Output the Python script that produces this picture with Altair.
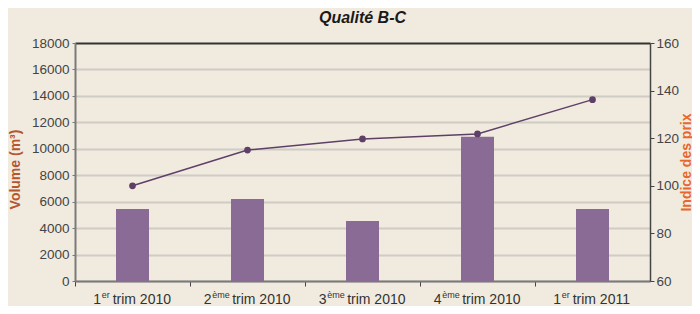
import altair as alt
import pandas as pd

quarters = ["1er trim 2010", "2ème trim 2010", "3ème trim 2010", "4ème trim 2010", "1er trim 2011"]
ordinals = ["1", "2", "3", "4", "1"]
sups = ["er", "ème", "ème", "ème", "er"]
rests = ["trim 2010", "trim 2010", "trim 2010", "trim 2010", "trim 2011"]
volume = [5450, 6200, 4540, 10910, 5450]
prix = [100, 115, 119.7, 121.8, 136.2]

df = pd.DataFrame({"q": quarters, "ord": ordinals, "sup": sups, "rest": rests,
                   "volume": volume, "prix": prix})

W, H = 575, 238
HALF_BAND = W / len(quarters) / 2
FONT = "Liberation Sans"
BAR = "#8A6B96"
LINE = "#5E3F68"


def xenc():
    return alt.X("q:N", sort=quarters,
                 scale=alt.Scale(paddingInner=0, paddingOuter=0),
                 axis=alt.Axis(title=None, labels=False, ticks=True, tickSize=5,
                               tickColor="#444", tickWidth=1, bandPosition=0,
                               domainColor="#7a7a7a", domainWidth=2, grid=False))


base = alt.Chart(df)

bars = base.mark_bar(size=33, color=BAR).encode(
    x=xenc(),
    y=alt.Y("volume:Q", scale=alt.Scale(domain=[0, 18000], nice=False),
            axis=alt.Axis(title="Volume (m³)", values=list(range(0, 18001, 2000)),
                          format="d",
                          titleColor="#B5562F", titleFont=FONT, titleFontSize=14,
                          titleFontWeight="bold", titleAngle=270, titleX=-60, titleY=126,
                          titleAlign="center", titleBaseline="middle",
                          labelFont=FONT, labelFontSize=13.5, labelColor="#444",
                          labelPadding=3, tickSize=3, tickColor="#7a7a7a",
                          domainColor="#7a7a7a", domainWidth=2,
                          grid=True, gridWidth=1.8,
                          gridColor=alt.condition("datum.value == 18000",
                                                  alt.value("#333333"),
                                                  alt.value("#cfccc6"))))
)

yr = alt.Y("prix:Q", scale=alt.Scale(domain=[60, 160], nice=False),
           axis=alt.Axis(title="Indice des prix", orient="right",
                         values=list(range(60, 161, 20)), format="d",
                         titleColor="#E8672A", titleFont=FONT, titleFontSize=14,
                         titleFontWeight="bold", titleAngle=270, titleX=36, titleY=119,
                         titleAlign="center", titleBaseline="middle",
                         labelFont=FONT, labelFontSize=13.5, labelColor="#444",
                         labelPadding=2, tickSize=4, tickColor="#444",
                         domainColor="#444", domainWidth=1.5, grid=False))

line = base.mark_line(color=LINE, strokeWidth=1.5).encode(x=xenc(), y=yr)
pts = base.mark_circle(size=45, color=LINE, opacity=1).encode(x=xenc(), y=yr)
line_layer = alt.layer(line, pts)

lab = base.transform_calculate(
    supW="datum.sup == 'er' ? 8.5 : 17.5",
).transform_calculate(
    total="7.8 + datum.supW + 3 + 59",
).transform_calculate(
    digitX=f"{HALF_BAND} - datum.total / 2 + 7.8",
).transform_calculate(
    supX="datum.digitX + 0.5",
    restX="datum.digitX + datum.supW + 3",
)

LAB_Y = H + 23
t_digit = lab.mark_text(align="right", baseline="alphabetic", font=FONT, fontSize=14,
                        color="#333").encode(
    x=xenc(), xOffset=alt.XOffset("digitX:Q", scale=None),
    y=alt.value(LAB_Y), text="ord:N")
t_sup = lab.mark_text(align="left", baseline="alphabetic", font=FONT, fontSize=9,
                      color="#333").encode(
    x=xenc(), xOffset=alt.XOffset("supX:Q", scale=None),
    y=alt.value(LAB_Y - 6), text="sup:N")
t_rest = lab.mark_text(align="left", baseline="alphabetic", font=FONT, fontSize=14,
                       color="#333").encode(
    x=xenc(), xOffset=alt.XOffset("restX:Q", scale=None),
    y=alt.value(LAB_Y), text="rest:N")

chart = alt.layer(bars, line_layer, t_digit, t_sup, t_rest).resolve_scale(
    y="independent"
).properties(
    width=W, height=H, autosize="none",
    padding={"left": 67, "top": 35, "right": 42, "bottom": 25},
    background="#F1EBDF",
    title=alt.Title("Qualité B-C", fontSize=16, fontStyle="italic", fontWeight="bold",
                    font=FONT, color="#1a1a1a", offset=10, anchor="middle"),
).configure_view(stroke=None)

chart.save("out.html", embed_options={"renderer": "svg", "actions": False})
